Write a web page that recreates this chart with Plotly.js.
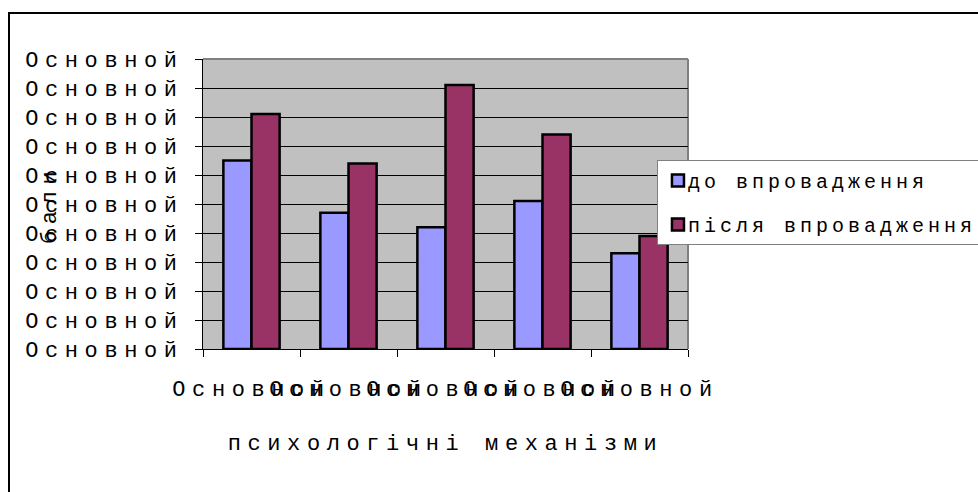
<!DOCTYPE html>
<html>
<head>
<meta charset="utf-8">
<script src="https://cdn.plot.ly/plotly-3.0.1.min.js"></script>
<style>
  html, body { margin: 0; padding: 0; background: #ffffff; overflow: hidden; width: 978px; height: 492px; }
  #frame { position: absolute; left: 8px; top: 12px; width: 1200px; height: 800px;
           border-left: 2.5px solid #000; border-top: 2.5px solid #000; }
  #chart { position: absolute; left: 0; top: 0; width: 1100px; height: 492px; }
  svg text { letter-spacing: 0.3em; }
  svg text.legendtext { letter-spacing: 0.2em; transform: translateX(-10px); }
  svg text.annotation-text { letter-spacing: 0.3em; }
</style>
</head>
<body>
<div id="frame"></div>
<div id="chart"></div>
<script>
// ---- data ----
const categories = ['Основной', 'Основной', 'Основной', 'Основной', 'Основной'];
const seriesNames = ['до впровадження', 'після впровадження'];
const beforeValues = [6.5, 4.7, 4.2, 5.1, 3.3];
const afterValues = [8.1, 6.4, 9.1, 7.4, 3.9];
const yTickValues = [0, 1, 2, 3, 4, 5, 6, 7, 8, 9, 10];
const yTickLabels = ['Основной', 'Основной', 'Основной', 'Основной', 'Основной', 'Основной',
                     'Основной', 'Основной', 'Основной', 'Основной', 'Основной'];
const xTitle = 'психологічні механізми';
const yTitle = 'бали';

// distinct category keys so duplicate labels are not merged
const catKeys = categories.map((c, i) => 'k' + i);

const FONT = '"Liberation Mono", "DejaVu Sans Mono", monospace';

const traces = [
  {
    type: 'bar', name: seriesNames[0], x: catKeys, y: beforeValues,
    legendgroup: 'a',
    marker: { color: '#9999ff', line: { color: '#000000', width: 2.5 } }
  },
  {
    type: 'bar', name: seriesNames[1], x: catKeys, y: afterValues,
    legendgroup: 'b',
    marker: { color: '#993366', line: { color: '#000000', width: 2.5 } }
  }
];

const layout = {
  width: 1100, height: 492,
  margin: { l: 203, r: 412, t: 59, b: 143 },
  paper_bgcolor: 'rgba(0,0,0,0)',
  plot_bgcolor: '#c0c0c0',
  barmode: 'group',
  bargap: 0.42,
  bargroupgap: 0,
  font: { family: FONT, color: '#000000', size: 22 },
  showlegend: true,
  legend: {
    x: 0.936, y: 0.652, xanchor: 'left', yanchor: 'top',
    bgcolor: '#ffffff', bordercolor: '#808080', borderwidth: 1,
    font: { family: FONT, size: 20, color: '#000000' },
    tracegroupgap: 15, itemwidth: 30
  },
  xaxis: {
    type: 'category',
    tickvals: catKeys, ticktext: categories,
    tickson: 'boundaries', tickangle: 0,
    ticks: 'outside', ticklen: 7, tickwidth: 1, tickcolor: '#000000',
    ticklabelstandoff: 20,
    showline: true, linecolor: '#000000', linewidth: 1,
    showgrid: false, zeroline: false, automargin: false,
    tickfont: { family: FONT, size: 22, color: '#000000' },
    title: { text: xTitle, standoff: 32, font: { family: FONT, size: 22, color: '#000000' } }
  },
  yaxis: {
    range: [0, 10],
    tickvals: yTickValues, ticktext: yTickLabels,
    ticks: 'outside', ticklen: 7, tickwidth: 1, tickcolor: '#000000',
    ticklabelstandoff: 7,
    showline: true, linecolor: '#000000', linewidth: 1,
    showgrid: true, gridcolor: '#000000', gridwidth: 1,
    zeroline: false, automargin: false,
    tickfont: { family: FONT, size: 22, color: '#000000' }
  },
  shapes: [
    { type: 'line', xref: 'paper', yref: 'paper', x0: 0, x1: 1, y0: 1, y1: 1,
      line: { color: '#808080', width: 2 }, layer: 'above' },
    { type: 'line', xref: 'paper', yref: 'paper', x0: 1, x1: 1, y0: 0, y1: 1,
      line: { color: '#808080', width: 2 }, layer: 'below' }
  ],
  annotations: [
    { text: yTitle, xref: 'paper', yref: 'paper', x: -0.3155, y: 0.5,
      xanchor: 'center', yanchor: 'middle', textangle: -90, showarrow: false,
      font: { family: FONT, size: 22, color: '#000000' } }
  ]
};

Plotly.newPlot('chart', traces, layout, { displayModeBar: false, staticPlot: true });
</script>
</body>
</html>
